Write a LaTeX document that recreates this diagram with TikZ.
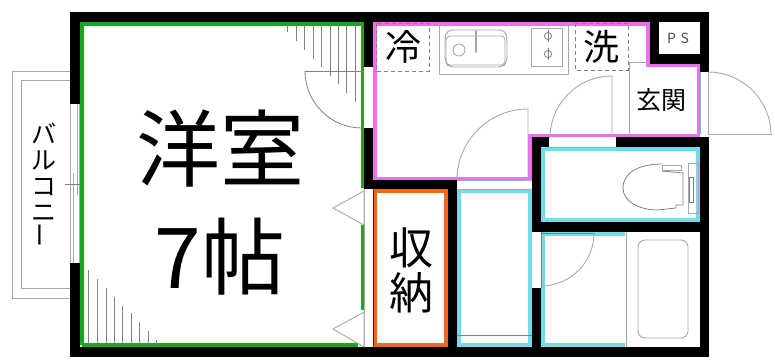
\documentclass[tikz,border=0pt]{standalone}
\usepackage{fontspec}
\usepackage{graphicx}
\setmainfont{Noto Sans CJK JP}
\definecolor{wgreen}{HTML}{18A81E}
\definecolor{wpink}{HTML}{F06CF0}
\definecolor{wcyan}{HTML}{74DCE8}
\definecolor{worange}{HTML}{EA6A1A}
\definecolor{wline}{HTML}{A8A8A8}
\definecolor{wdark}{HTML}{808080}
\tikzset{
  wall/.style={fill=black,draw=none},
  band/.style={line width=3.6pt,line join=miter},
  fine/.style={draw=wline,line width=0.9pt},
  finer/.style={draw=wdark,line width=0.8pt},
  hatch/.style={draw=wdark,line width=0.8pt},
  dashbox/.style={draw=wdark,line width=0.8pt,dash pattern=on 4pt off 3pt},
  label/.style={inner sep=0pt,text=black}
}
\begin{document}
\begin{tikzpicture}[x=1pt,y=-1pt]
\useasboundingbox (0,0) rectangle (775,360);
% balcony
\draw[fine] (70,71) -- (12,71) -- (12,298) -- (70,298);
\draw[fine] (70,80) -- (21,80) -- (21,288) -- (70,288);
% window
\draw[fine] (70,104) -- (70,263) (79,104) -- (79,263);
\draw[fine] (73,173) -- (73,263) (77,104) -- (77,195);
\draw[finer] (65,184) -- (83,184);
% coloured bands
\draw[band,wgreen] (82,345) -- (82,24) -- (362.5,24) -- (362.5,188);
\draw[band,wgreen] (362.5,225) -- (362.5,310);
\draw[band,wgreen] (82,345) -- (358,345);
\draw[band,wpink] (375,24) -- (648,24) -- (648,65.5) -- (698.5,65.5) -- (698.5,135.5) -- (530,135.5) -- (530,178.5) -- (375,178.5) -- cycle;
\draw[band,wcyan] (542.8,148.8) rectangle (698.2,220.2);
\draw[band,wcyan] (625,233.8) -- (542.8,233.8) -- (542.8,345.2) -- (625,345.2);
\draw[band,wcyan] (458.8,190.8) rectangle (530.2,345.2);
\draw[band,worange] (375,191) rectangle (446,345);
% hatching, top right
\foreach \hx/\hy in {287/32,296/41,304/50,313/59,321/67,330/76,338/84,346/93,355/102}
  \draw[hatch] (\hx,25) -- (\hx,\hy);
% hatching, bottom left
\foreach \hx/\hy in {88/270,97/279,106/288,114/297,122/306,131/313,139/322,148/331,156/340}
  \draw[hatch] (\hx,\hy) -- (\hx,345);
% walls
\fill[wall] (70,12) rectangle (709,22);
\fill[wall] (70,12) rectangle (80,104);
\fill[wall] (70,263) rectangle (80,357);
\fill[wall] (70,347) rectangle (709,357);
\fill[wall] (364,12) rectangle (373,67);
\fill[wall] (364,128) rectangle (373,189);
\fill[wall] (364,180) rectangle (457,189);
\fill[wall] (448,180) rectangle (457,347);
\fill[wall] (650,12) rectangle (659,64);
\fill[wall] (650,54) rectangle (709,64);
\fill[wall] (700,12) rectangle (709,72);
\fill[wall] (700,137) rectangle (709,357);
\fill[wall] (532,137) rectangle (549,147);
\fill[wall] (616,137) rectangle (709,147);
\fill[wall] (532,137) rectangle (541,232);
\fill[wall] (532,222) rectangle (709,232);
\fill[wall] (532,288) rectangle (541,357);
% storage-side jamb lines and sliding doors
\draw[fine] (364,189) -- (364,347);
\draw[draw=black!45!red,line width=0.7pt] (373,189) -- (373,347);
\draw[fine,fill=white] (364,191) -- (333,208) -- (364,225) -- cycle;
\draw[fine,fill=white] (364,312) -- (333,329) -- (364,347) -- cycle;
% doors
\draw[finer] (305,71) -- (364,71);
\draw[finer] (305,71) arc[start angle=180,end angle=90,radius=57];
\draw[fine] (612,137) -- (612,76) arc[start angle=270,end angle=180,radius=62];
\draw[fine] (528,180) -- (528,109) arc[start angle=270,end angle=180,radius=71];
\draw[fine] (708,72) -- (708,134) -- (772,134);
\draw[fine] (708,72) arc[start angle=270,end angle=360,radius=63];
\draw[fine] (700,72) -- (700,134);
\draw[finer] (541,232) -- (541,288);
\draw[finer] (541,233) -- (594,233);
\draw[fine] (594,233) arc[start angle=0,end angle=90,radius=53];
% openings
\draw[fine] (457,180) -- (532,180) (457,189) -- (532,189);
\draw[fine] (549,147) -- (616,147);
\draw[finer] (457,335) -- (532,335);
% kitchen
\draw[fine] (439,22) -- (439,74) -- (568,74) -- (568,22);
\draw[fine,rounded corners=5pt] (445,38) -- (447,30) -- (505,30) -- (507,38) -- (507,62) -- (503,67) -- (449,67) -- (445,62) -- cycle;
\draw[fine,rounded corners=4pt] (446,36) rectangle (505,65);
\draw[fine] (459,50) circle[radius=6];
\draw[fine,line width=1.6pt,line cap=round] (476,31) -- (476,52);
\draw[fine] (531,28) rectangle (562,66);
\foreach \by in {36,54}{
  \draw[finer] (548,\by) circle[radius=3.6];
  \draw[finer] (548,\by-6) -- (548,\by+6);
}
\draw[dashbox] (376,23) rectangle (429,71);
\draw[dashbox] (575,23) rectangle (628,70);
% entry
\draw[fine] (629,137) -- (629,62) -- (649,62);
% toilet
\draw[finer] (662,164) .. controls (640,164) and (623,172) .. (623,188) .. controls (623,202) and (640,210) .. (658,210) -- (676,208) -- (676,205) -- (683,205) -- (683,173) -- (662,171);
\draw[fine] (662,165) rectangle (681,170);
\draw[fine] (688,163) -- (688,213) -- (698,213) -- (698,163) -- cycle;
\draw[finer] (689,177) rectangle (693,202);
% bath
\draw[fine] (626,232) -- (626,347);
\draw[fine] (638,240) [rounded corners=7pt] rectangle (688,338);
% labels
\node[label,font=\fontsize{84}{108}\selectfont,align=center] (yoshitsu) at (220,203) {洋室\\7帖};
\node[label,font=\fontsize{25}{26}\selectfont,align=center] (balcony) at (44,185) {バ\\ル\\コ\\ニ\\\rotatebox{90}{ー}};
\node[label,font=\fontsize{36}{36}\selectfont] (rei) at (403,47) {冷};
\node[label,font=\fontsize{36}{36}\selectfont] (sen) at (601,47) {洗};
\node[label,font=\fontsize{14}{14}\selectfont,text=black!70] (ps) at (678,38) {P\,\,S};
\node[label,font=\fontsize{25}{25}\selectfont] (genkan) at (661,100) {玄関};
\node[label,font=\fontsize{44}{45}\selectfont,align=center] (shuno) at (411,270) {収\\納};
\end{tikzpicture}
\end{document}
